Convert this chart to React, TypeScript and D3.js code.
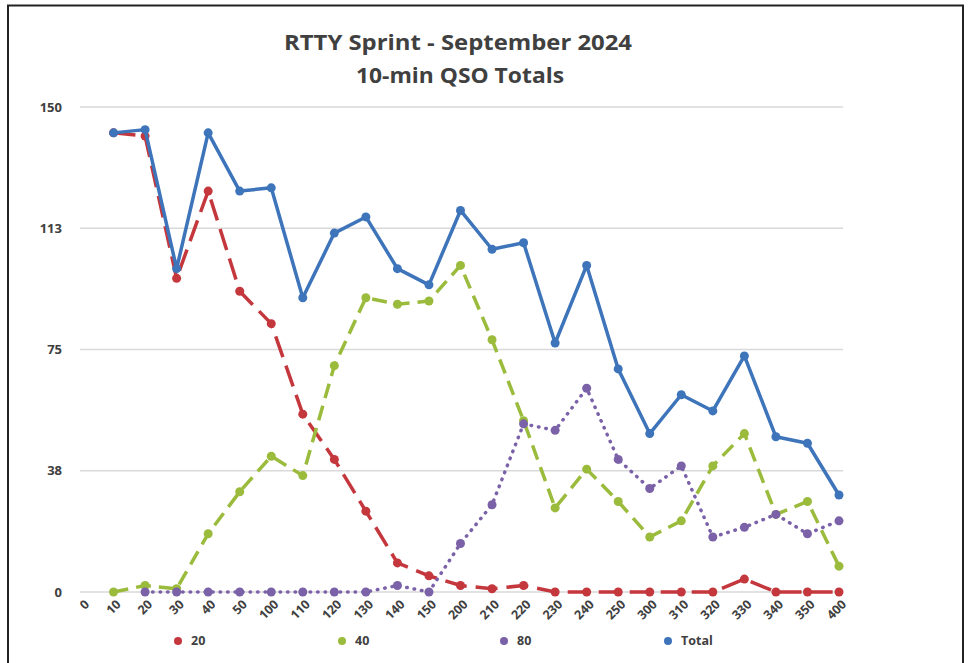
import React, { useEffect, useRef } from "react";
import * as d3 from "d3";

const categories = ["0","10","20","30","40","50","100","110","120","130","140","150","200","210","220","230","240","250","300","310","320","330","340","350","400"];
const band20: (number | null)[] = [null,142,141,97,124,93,83,55,41,25,9,5,2,1,2,0,0,0,0,0,0,4,0,0,0];
const band40: (number | null)[] = [null,0,2,1,18,31,42,36,70,91,89,90,101,78,53,26,38,28,17,22,39,49,24,28,8];
const band80: (number | null)[] = [null,null,0,0,0,0,0,0,0,0,2,0,15,27,52,50,63,41,32,39,17,20,24,18,22];
const total: (number | null)[] = [null,142,143,100,142,124,125,91,111,116,100,95,118,106,108,77,101,69,49,61,56,73,48,46,30];
const yTicks = [0, 37.5, 75, 112.5, 150];
const seriesNames = ["20", "40", "80", "Total"];

const W = 971, H = 663;
const FONT = "'Open Sans', 'DejaVu Sans', sans-serif";

export default function App() {
  const ref = useRef<SVGSVGElement>(null);
  useEffect(() => {
    document.body.style.margin = "0";
    const svg = d3.select(ref.current);
    svg.selectAll("*").remove();

    const x = d3.scalePoint<string>().domain(categories).range([82, 839]);
    const y = d3.scaleLinear().domain([0, 150]).range([592, 107]);

    svg.append("rect").attr("x", 0).attr("y", 0).attr("width", W).attr("height", H).attr("fill", "#fff");
    svg.append("rect").attr("x", 8).attr("y", 5.5).attr("width", 955).attr("height", H + 20)
      .attr("fill", "none").attr("stroke", "#222").attr("stroke-width", 2);

    // title
    const t = svg.append("text").attr("text-anchor", "middle").attr("font-family", FONT)
      .attr("font-weight", 700).attr("fill", "#404040");
    t.append("tspan").attr("x", 458).attr("y", 50).attr("font-size", 21)
      .attr("textLength", 348).attr("lengthAdjust", "spacingAndGlyphs").text("RTTY Sprint - September 2024");
    t.append("tspan").attr("x", 460).attr("y", 83).attr("font-size", 21)
      .attr("textLength", 208).attr("lengthAdjust", "spacingAndGlyphs").text("10-min QSO Totals");

    // gridlines
    const g = svg.append("g");
    yTicks.forEach((v) => {
      g.append("line").attr("x1", 80).attr("x2", 843).attr("y1", y(v)).attr("y2", y(v))
        .attr("stroke", "#d9d9d9").attr("stroke-width", 1.5);
      g.append("text").attr("x", 62).attr("y", y(v)).attr("dy", "0.35em").attr("text-anchor", "end")
        .attr("font-family", FONT).attr("font-size", 13).attr("font-weight", 700).attr("fill", "#404040")
        .text(d3.format(".0f")(Math.round(v)));
    });

    // x labels
    categories.forEach((c) => {
      g.append("text")
        .attr("transform", `translate(${(x(c) as number) + 5},${602}) rotate(-45)`)
        .attr("dy", "0.35em").attr("text-anchor", "end")
        .attr("font-family", FONT).attr("font-size", 12.5).attr("font-weight", 700).attr("fill", "#404040")
        .text(c);
    });

    const series = [
      { name: seriesNames[0], data: band20, color: "#c4373d", dash: "22 9", cap: "butt" },
      { name: seriesNames[1], data: band40, color: "#9bbb3c", dash: "15 8", cap: "butt" },
      { name: seriesNames[2], data: band80, color: "#7b62a8", dash: "0.5 7", cap: "round" },
      { name: seriesNames[3], data: total, color: "#3d74ba", dash: null, cap: "round" },
    ];

    series.forEach((s) => {
      const pts = categories.map((c, i) => ({ c, v: s.data[i] }));
      const line = d3.line<{ c: string; v: number | null }>()
        .defined((d) => d.v !== null)
        .x((d) => x(d.c) as number)
        .y((d) => y(d.v as number));
      svg.append("path").datum(pts).attr("d", line).attr("fill", "none")
        .attr("stroke", s.color).attr("stroke-width", 3.5).attr("stroke-linejoin", "round")
        .attr("stroke-linecap", s.cap)
        .attr("stroke-dasharray", s.dash);
      svg.append("g").selectAll("circle").data(pts.filter((d) => d.v !== null)).join("circle")
        .attr("cx", (d) => x(d.c) as number).attr("cy", (d) => y(d.v as number)).attr("r", 4.5)
        .attr("fill", s.color);
    });

    // legend
    const lx = [178, 342, 504, 668];
    series.forEach((s, i) => {
      svg.append("circle").attr("cx", lx[i]).attr("cy", 641).attr("r", 4).attr("fill", s.color);
      svg.append("text").attr("x", lx[i] + 13).attr("y", 641).attr("dy", "0.35em")
        .attr("font-family", FONT).attr("font-size", 12.5).attr("font-weight", 700).attr("fill", "#404040")
        .text(s.name);
    });
  }, []);
  return (
    <svg ref={ref} width={W} height={H} style={{ position: "absolute", left: 0, top: 0, display: "block" }} />
  );
}
